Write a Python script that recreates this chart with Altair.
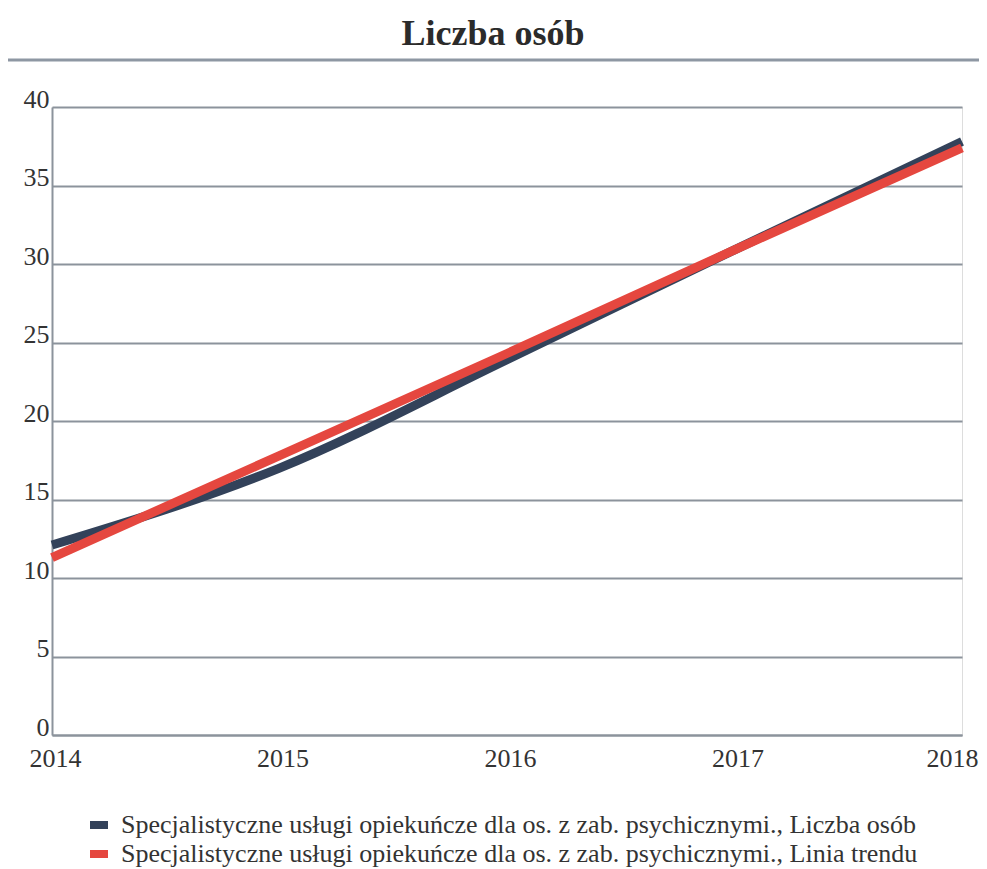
import altair as alt
import pandas as pd

years = [2014, 2015, 2016, 2017, 2018]
liczba_osob = [12.1, 17.0, 23.9, 30.9, 37.8]
linia_trendu = [11.3, 17.8, 24.3, 30.9, 37.4]
series_names = [
    "Specjalistyczne usługi opiekuńcze dla os. z zab. psychicznymi., Liczba osób",
    "Specjalistyczne usługi opiekuńcze dla os. z zab. psychicznymi., Linia trendu",
]
series_colors = ["#33425a", "#e5473f"]
title_text = "Liczba osób"
y_ticks = [0, 5, 10, 15, 20, 25, 30, 35, 40]

rows = []
for i, y in enumerate(years):
    rows.append({"rok": y, "wartosc": liczba_osob[i], "seria": series_names[0], "ord": 0})
for i, y in enumerate(years):
    rows.append({"rok": y, "wartosc": linia_trendu[i], "seria": series_names[1], "ord": 1})
df = pd.DataFrame(rows)

SERIF = "Liberation Serif"
W, H = 910, 628

x_enc = alt.X("rok:Q", scale=alt.Scale(domain=[2014, 2018], nice=False),
              axis=alt.Axis(values=years, format="d", title=None, grid=False,
                            tickSize=0, labelPadding=10, labelFont=SERIF,
                            labelFontSize=26, labelColor="#333333",
                            domainColor="#8c939c", domainWidth=2,
                            labelFlush=False,
                            labelOffset={"expr": "datum.value == 2018 ? -10 : 3"}))
y_enc = alt.Y("wartosc:Q", scale=alt.Scale(domain=[0, 40], nice=False),
              axis=alt.Axis(values=y_ticks, title=None, grid=True,
                            gridColor="#8c939c", gridWidth=2, tickSize=0,
                            labelPadding=3, labelFont=SERIF, labelFontSize=26,
                            labelColor="#333333", labelBaseline="alphabetic",
                            domainColor="#8c939c", domainWidth=2))

color_enc = alt.Color("seria:N",
                      scale=alt.Scale(domain=series_names, range=series_colors),
                      legend=alt.Legend(title=None, orient="none", legendX=34,
                                        legendY=705, direction="vertical",
                                        symbolType="stroke", symbolSize=324,
                                        symbolStrokeWidth=8,
                                        labelFont=SERIF, labelFontSize=26,
                                        labelColor="#333333", labelLimit=2000,
                                        rowPadding=-5, labelOffset=9))

dark = alt.Chart(df[df["ord"] == 0]).mark_line(
    strokeWidth=9, interpolate="monotone", strokeCap="butt"
).encode(x=x_enc, y=y_enc, color=color_enc)

red = alt.Chart(df[df["ord"] == 1]).mark_line(
    strokeWidth=9, strokeCap="butt"
).encode(x=x_enc, y=y_enc, color=color_enc)

title_df = pd.DataFrame({"t": [title_text]})
title = alt.Chart(title_df).mark_text(
    font=SERIF, fontSize=36, fontWeight="bold", color="#2b2b2b",
    baseline="alphabetic", align="center"
).encode(text="t:N", x=alt.value(441), y=alt.value(-62))

rule = alt.Chart(title_df).mark_rule(color="#8e97a3", strokeWidth=3).encode(
    x=alt.value(-47), x2=alt.value(935), y=alt.value(-47)
)

chart = alt.layer(dark, red, title, rule).properties(
    width=W, height=H,
    autosize=alt.AutoSizeParams(type="none"),
    padding={"left": 44, "top": 99, "right": 17, "bottom": 134},
).configure_view(stroke=None).configure(background="white")

chart.save("out.html", embed_options={"renderer": "svg", "actions": False})
